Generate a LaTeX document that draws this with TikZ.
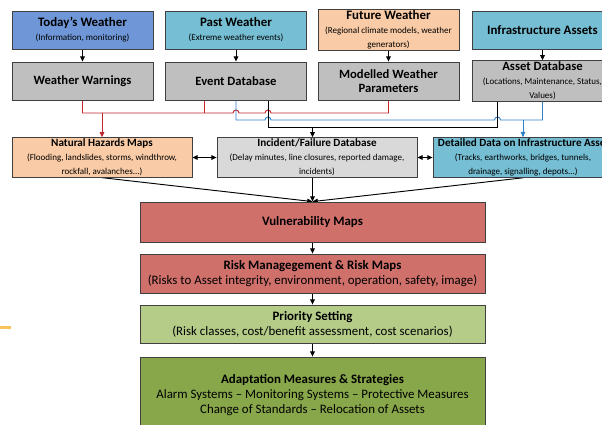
\documentclass[tikz,border=0pt]{standalone}
\usepackage{fontspec}
\setmainfont{Carlito}
\usepackage{tikz}
\usetikzlibrary{calc}
\usetikzlibrary{arrows.meta}
\pgfdeclarelayer{nodelayer}
\pgfdeclarelayer{edgelayer}
\pgfsetlayers{edgelayer,nodelayer,main}
\definecolor{todayblue}{HTML}{6F97D8}
\definecolor{pastteal}{HTML}{75BED3}
\definecolor{peach}{HTML}{F9CBA6}
\definecolor{midgray}{HTML}{BFBFBF}
\definecolor{incgray}{HTML}{D9D9D9}
\definecolor{vulred}{HTML}{D0706B}
\definecolor{prigreen}{HTML}{B4CC88}
\definecolor{adagreen}{HTML}{87A74A}
\definecolor{boxline}{HTML}{404040}
\definecolor{hazred}{HTML}{C0272D}
\definecolor{assetblue}{HTML}{2F80C8}
\definecolor{markorange}{HTML}{F7C35A}
\newcommand{\toptitle}[1]{{\fontsize{11}{13}\selectfont\bfseries #1}}
\newcommand{\midtitle}[1]{{\fontsize{10.8}{12.5}\selectfont\bfseries #1}}
\newcommand{\smalltitle}[1]{{\fontsize{9.5}{11.5}\selectfont\bfseries #1}}
\newcommand{\lowtitle}[1]{{\fontsize{11}{13}\selectfont\bfseries #1}}
\newcommand{\boxsub}[1]{{\fontsize{7.7}{9.4}\selectfont #1}}
\tikzset{box/.style={draw=boxline, line width=0.7pt, align=center, inner sep=1pt,
minimum width=4.23cm, minimum height=1.14cm}}
\tikzset{mapbox/.style={box, minimum width=5.4cm, minimum height=1.17cm}}
\tikzset{stepbox/.style={box, minimum width=10.35cm, minimum height=1.17cm,
font=\fontsize{11}{13}\selectfont}}
\tikzstyle{arrow}=[line width=0.8pt, -{Triangle[length=4.5pt,width=4pt]}]
\tikzstyle{darrow}=[line width=0.8pt, {Triangle[length=4.5pt,width=4pt]}-{Triangle[length=4.5pt,width=4pt]}]
\tikzstyle{redline}=[line width=0.8pt, draw=hazred]
\tikzstyle{blueline}=[line width=0.8pt, draw=assetblue]
\tikzstyle{blackline}=[line width=0.8pt, draw=black]
\tikzstyle{hop}=[start angle=180, end angle=360, radius=3]

\begin{document}
\begin{tikzpicture}[x=0.03cm, y=-0.03cm]
    \path [use as bounding box] (0, 0) rectangle (602, 425);
    \begin{pgfonlayer}{nodelayer}
        \node [style=box, fill=todayblue] (0) at (82.5, 30) {\toptitle{Today's Weather}\\\boxsub{(Information, monitoring)}};
        \node [style=box, fill=pastteal] (1) at (236, 30) {\toptitle{Past Weather}\\\boxsub{(Extreme weather events)}};
        \node [style=box, fill=peach] (2) at (388.5, 30) {\toptitle{Future Weather}\\\boxsub{(Regional climate models, weather}\\\boxsub{generators)}};
        \node [style=box, fill=pastteal] (3) at (542.5, 30) {\toptitle{Infrastructure Assets}};
        \node [style=box, fill=midgray] (4) at (82.5, 81) {\midtitle{Weather Warnings}};
        \node [style=box, fill=midgray] (5) at (236, 81) {\midtitle{Event Database}};
        \node [style=box, fill=midgray] (6) at (388.5, 81) {\midtitle{Modelled Weather}\\\midtitle{Parameters}};
        \node [style=box, fill=midgray] (7) at (542.5, 81) {\midtitle{Asset Database}\\\boxsub{(Locations, Maintenance, Status,}\\\boxsub{Values)}};
        \node [style=mapbox, fill=peach] (8) at (102, 157.5) {\smalltitle{Natural Hazards Maps}\\\boxsub{(Flooding, landslides, storms, windthrow,}\\\boxsub{rockfall, avalanches...)}};
        \node [style=mapbox, fill=incgray, minimum width=6cm] (9) at (317, 157.5) {\smalltitle{Incident/Failure Database}\\\boxsub{(Delay minutes, line closures, reported damage,}\\\boxsub{incidents)}};
        \node [style=mapbox, fill=pastteal, text width=5.1cm, align=flush center] (10) at (523, 157.5) {\mbox{\smalltitle{Detailed Data on Infrastructure Assets}}\\\boxsub{(Tracks, earthworks, bridges, tunnels,}\\\boxsub{drainage, signalling, depots...)}};
        \node [style=stepbox, fill=vulred, minimum height=1.2cm] (11) at (312.5, 222) {\lowtitle{Vulnerability Maps}};
        \node [style=stepbox, fill=vulred] (12) at (312.5, 273.5) {\lowtitle{Risk Managegement \& Risk Maps}\\(Risks to Asset integrity, environment, operation, safety, image)};
        \node [style=stepbox, fill=prigreen, minimum height=1.14cm] (13) at (312.5, 324) {\lowtitle{Priority Setting}\\(Risk classes, cost/benefit assessment, cost scenarios)};
        \node [style=stepbox, fill=adagreen, minimum height=2.28cm] (14) at (312.5, 395) {\lowtitle{Adaptation Measures \& Strategies}\\Alarm Systems -- Monitoring Systems -- Protective Measures\\Change of Standards -- Relocation of Assets};
        \coordinate (15) at (0, 113);
        \coordinate (16) at (0, 120);
        \coordinate (17) at (0, 127);
        \coordinate (18) at ($(5.south)+(-32, 0)$);
        \coordinate (19) at ($(5.south)+(32, 0)$);
        \coordinate (20) at ($(7.south)+(-45, 0)$);
    \end{pgfonlayer}
    \begin{pgfonlayer}{edgelayer}
        \draw [style=arrow] (0) to (4);
        \draw [style=arrow] (1) to (5);
        \draw [style=arrow] (2) to (6);
        \draw [style=arrow] (3) to (7);
        % weather data into the hazard maps
        \draw [style=redline] (4.south) -- (4.south |- 15) -- ($(5.south |- 15)+(-3, 0)$) arc [style=hop]
            -- ($(19 |- 15)+(-3, 0)$) arc [style=hop] -- (6.south |- 15) -- (6.south);
        \draw [style=redline] (18) -- (18 |- 15);
        \draw [style=redline, style=arrow, draw=hazred] (8.north |- 15) -- (8.north);
        % asset data
        \draw [style=blueline] (5.south) -- (5.south |- 16) -- ($(19 |- 16)+(-3, 0)$) arc [style=hop]
            -- ($(20 |- 16)+(-3, 0)$) arc [style=hop] -- (7.south |- 16) -- (7.south);
        \draw [style=blueline, style=arrow, draw=assetblue] (10.north |- 16) -- (10.north);
        % incidents
        \draw [style=blackline] (19) -- (19 |- 17) -- (20 |- 17) -- (20);
        \draw [style=arrow] (11.north |- 17) -- (9.north -| 11.north);
        \draw [style=darrow] (8) to (9);
        \draw [style=darrow] (9) to (10);
        \draw [style=arrow] (8.south) -- (11.north);
        \draw [style=arrow] (9.south -| 11.north) -- (11.north);
        \draw [style=arrow] (10.south) -- (11.north);
        \draw [style=arrow] (11) to (12);
        \draw [style=arrow] (12) to (13);
        \draw [style=arrow] (13) to (14);
    \end{pgfonlayer}
    \fill [markorange] (0, 326) rectangle (11, 329);
\end{tikzpicture}
\end{document}
